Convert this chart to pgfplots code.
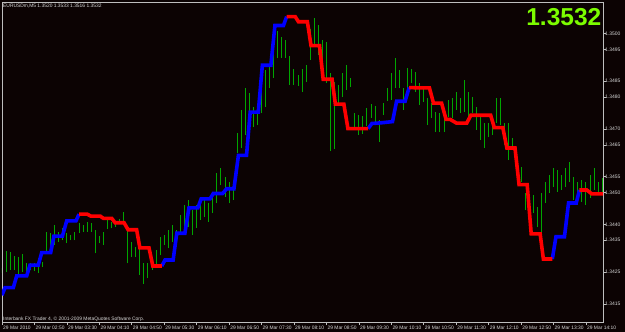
\documentclass[border=0pt]{standalone}
\usepackage{pgfplots}
\pgfplotsset{compat=1.18}
\usepackage{pgfplotstable}
\usepackage{fontspec}
\setmainfont{Liberation Sans}
\definecolor{bgc}{RGB}{12,3,3}
\definecolor{frm}{RGB}{190,190,190}
\definecolor{txt}{RGB}{215,215,215}
\definecolor{barg}{RGB}{0,165,0}
\definecolor{bigg}{RGB}{124,252,0}
\definecolor{lblue}{RGB}{0,0,255}
\definecolor{lred}{RGB}{255,0,0}
\pgfplotstableread{
k hi lo
0 1.34263 1.34247
1 1.34317 1.34251
2 1.34314 1.34256
3 1.34300 1.34256
4 1.34298 1.34235
5 1.34307 1.34251
6 1.34279 1.34246
7 1.34279 1.34256
8 1.34277 1.34254
9 1.34293 1.34248
10 1.34282 1.34267
11 1.34377 1.34309
12 1.34372 1.34330
13 1.34398 1.34335
14 1.34377 1.34345
15 1.34387 1.34350
16 1.34372 1.34340
17 1.34366 1.34350
18 1.34377 1.34350
19 1.34403 1.34372
20 1.34398 1.34377
21 1.34408 1.34377
22 1.34403 1.34377
23 1.34382 1.34309
24 1.34363 1.34340
25 1.34377 1.34335
26 1.34413 1.34384
27 1.34408 1.34387
28 1.34403 1.34392
29 1.34416 1.34403
30 1.34440 1.34403
31 1.34384 1.34277
32 1.34345 1.34298
33 1.34330 1.34298
34 1.34325 1.34240
35 1.34277 1.34214
36 1.34277 1.34230
37 1.34282 1.34256
38 1.34319 1.34272
39 1.34360 1.34303
40 1.34366 1.34335
41 1.34382 1.34325
42 1.34398 1.34345
43 1.34382 1.34340
44 1.34429 1.34377
45 1.34461 1.34382
46 1.34476 1.34392
47 1.34445 1.34366
48 1.34461 1.34388
49 1.34476 1.34413
50 1.34487 1.34424
51 1.34467 1.34408
52 1.34492 1.34435
53 1.34560 1.34466
54 1.34576 1.34524
55 1.34550 1.34487
56 1.34534 1.34466
57 1.34508 1.34476
58 1.34686 1.34623
59 1.34759 1.34640
60 1.34828 1.34681
61 1.34812 1.34744
62 1.34770 1.34706
63 1.34759 1.34712
64 1.34828 1.34749
65 1.34885 1.34769
66 1.34901 1.34828
67 1.34986 1.34860
68 1.35008 1.34923
69 1.34989 1.34923
70 1.34980 1.34923
71 1.34929 1.34838
72 1.34888 1.34838
73 1.34869 1.34835
74 1.34888 1.34816
75 1.34901 1.34847
76 1.35014 1.34917
77 1.35049 1.34967
78 1.35027 1.34932
79 1.34980 1.34863
80 1.34973 1.34844
81 1.34876 1.34630
82 1.34847 1.34637
83 1.34838 1.34775
84 1.34876 1.34800
85 1.34901 1.34822
86 1.34860 1.34832
87 1.34750 1.34697
88 1.34744 1.34681
89 1.34741 1.34684
90 1.34766 1.34709
91 1.34778 1.34734
92 1.34772 1.34719
93 1.34728 1.34659
94 1.34781 1.34744
95 1.34829 1.34788
96 1.34876 1.34791
97 1.34923 1.34829
98 1.34885 1.34829
99 1.34829 1.34759
100 1.34892 1.34807
101 1.34888 1.34844
102 1.34879 1.34816
103 1.34844 1.34775
104 1.34825 1.34785
105 1.34797 1.34712
106 1.34781 1.34734
107 1.34753 1.34690
108 1.34750 1.34690
109 1.34766 1.34690
110 1.34791 1.34737
111 1.34797 1.34734
112 1.34816 1.34759
113 1.34797 1.34750
114 1.34854 1.34753
115 1.34816 1.34737
116 1.34800 1.34750
117 1.34769 1.34697
118 1.34737 1.34665
119 1.34719 1.34640
120 1.34719 1.34675
121 1.34737 1.34681
122 1.34797 1.34719
123 1.34797 1.34712
124 1.34719 1.34649
125 1.34719 1.34602
126 1.34671 1.34634
127 1.34608 1.34549
128 1.34580 1.34533
129 1.34498 1.34445
130 1.34486 1.34404
131 1.34492 1.34435
132 1.34454 1.34391
133 1.34498 1.34360
134 1.34533 1.34467
135 1.34555 1.34498
136 1.34577 1.34517
137 1.34571 1.34502
138 1.34555 1.34508
139 1.34577 1.34517
140 1.34596 1.34533
141 1.34549 1.34476
142 1.34533 1.34461
143 1.34539 1.34470
144 1.34533 1.34461
145 1.34555 1.34483
146 1.34577 1.34508
147 1.34533 1.34492
148 1.34546 1.34492
}\bars
\begin{document}
\begin{tikzpicture}
\useasboundingbox (0,0) rectangle (625pt,-332pt);
\fill[bgc] (0,0) rectangle (625pt,-332pt);
\begin{axis}[
  at={(2pt,-2pt)}, anchor=north west,
  scale only axis, width=601pt, height=320pt,
  xmin=0, xmax=148.2, ymin=1.34093, ymax=1.35099,
  axis line style={frm, line width=0.8pt},
  xtick={0,8,16,24,32,40,48,56,64,72,80,88,96,104,112,120,128,136,144},
  xticklabels={29 Mar 2010,29 Mar 02:50,29 Mar 03:30,29 Mar 04:10,29 Mar 04:50,29 Mar 05:30,29 Mar 06:10,29 Mar 06:50,29 Mar 07:30,29 Mar 08:10,29 Mar 08:50,29 Mar 09:30,29 Mar 10:10,29 Mar 10:50,29 Mar 11:30,29 Mar 12:10,29 Mar 12:50,29 Mar 13:30,29 Mar 14:10},
  ytick={1.3510,1.3500,1.3495,1.3485,1.3480,1.3470,1.3465,1.3455,1.3450,1.3440,1.3435,1.3425,1.3415},
  yticklabels={1.3510,1.3500,1.3495,1.3485,1.3480,1.3470,1.3465,1.3455,1.3450,1.3440,1.3435,1.3425,1.3415},
  xtick pos=bottom, ytick pos=right, yticklabel pos=right,
  tick align=outside, major tick length=3pt,
  tick style={frm, line width=0.6pt},
  xticklabel style={font=\fontsize{4.9}{5}\selectfont, text=txt, anchor=north west, inner sep=0pt, xshift=1pt, yshift=-1.2pt},
  yticklabel style={font=\fontsize{5}{5}\selectfont, text=txt, anchor=west, inner sep=0pt, xshift=-1pt},
  scaled y ticks=false,
  clip=true,
]
\addplot[draw=none, mark=none, forget plot,
  error bars/.cd, y dir=plus, y explicit, error mark=none,
  error bar style={barg, line width=1pt}]
  table[x=k, y=lo, y error expr=\thisrow{hi}-\thisrow{lo}] {\bars};
% blue segments
\addplot[lblue, line width=3.6pt, mark=none] coordinates {
(0,1.34177) (0.74,1.34201) (2.79,1.34201) (3.63,1.34238) (6.09,1.34238) (6.9,1.34272) (8.95,1.34272) (9.79,1.34311) (12.0,1.34311) (12.8,1.34363) (14.9,1.34363) (15.96,1.34411) (18.25,1.34411) (19.0,1.34432)};
\addplot[lblue, line width=3.6pt, mark=none] coordinates {
(39.4,1.34269) (40.2,1.34288) (42.2,1.34288) (43.1,1.34372) (45.1,1.34372) (46.1,1.34452) (48.3,1.34452) (49.1,1.34480) (51.3,1.34480) (52.1,1.34497) (54.4,1.34497) (55.4,1.34512) (57.2,1.34512) (58.3,1.34617) (60.3,1.34617) (61.2,1.34753) (63.2,1.34753) (64.2,1.34900) (66.3,1.34900) (67.3,1.35025) (69.4,1.35025) (70.2,1.35053)};
\addplot[lblue, line width=3.6pt, mark=none] coordinates {
(90.3,1.34701) (91.2,1.34717) (93.4,1.34719) (96.3,1.34723) (97.3,1.34787) (99.4,1.34787) (100.4,1.34830)};
\addplot[lblue, line width=3.6pt, mark=none] coordinates {
(135.7,1.34291) (136.6,1.34361) (138.7,1.34361) (139.7,1.34467) (141.6,1.34467) (142.4,1.34508)};
% red segments
\addplot[lred, line width=3.6pt, mark=none] coordinates {
(19.0,1.34432) (21.0,1.34432) (21.9,1.34426) (24.2,1.34426) (25.0,1.34419) (27.05,1.34419) (27.9,1.34405) (30.1,1.34405) (31.1,1.34383) (33.2,1.34383) (34.0,1.34326) (36.25,1.34326) (37.2,1.34269) (39.4,1.34269)};
\addplot[lred, line width=3.6pt, mark=none] coordinates {
(70.2,1.35053) (72.3,1.35053) (73.1,1.35037) (75.3,1.35037) (76.2,1.34962) (78.3,1.34962) (79.2,1.34856) (81.4,1.34856) (82.2,1.34778) (84.3,1.34778) (85.3,1.34701) (90.3,1.34701)};
\addplot[lred, line width=3.6pt, mark=none] coordinates {
(100.4,1.34830) (103.1,1.34829) (105.4,1.34829) (106.4,1.34781) (108.4,1.34781) (109.5,1.34730) (110.5,1.34730) (112.1,1.34718) (114.6,1.34718) (115.6,1.34743) (120.5,1.34743) (121.4,1.34704) (123.5,1.34704) (124.5,1.34640) (126.5,1.34640) (127.5,1.34525) (129.5,1.34525) (130.5,1.34370) (132.7,1.34370) (133.5,1.34291) (135.7,1.34291)};
\addplot[lred, line width=3.6pt, mark=none] coordinates {
(142.4,1.34508) (144.2,1.34508) (145.4,1.34496) (148.2,1.34496)};
\end{axis}
\node[anchor=base west, text=txt, inner sep=0pt, font=\fontsize{4.9}{5}\selectfont] at (3pt,-7pt) {EURUSDm,M5 1.3520 1.3533 1.3516 1.3532};
\node[anchor=base west, text=txt, inner sep=0pt, font=\fontsize{4.9}{5}\selectfont] at (3pt,-320pt) {Interbank FX Trader 4, \textcopyright{} 2001-2009 MetaQuotes Software Corp.};
\node[anchor=base east, text=bigg, inner sep=0pt, font=\fontsize{24.5}{26}\selectfont\bfseries] at (601.5pt,-26pt) {1.3532};
\end{tikzpicture}
\end{document}
